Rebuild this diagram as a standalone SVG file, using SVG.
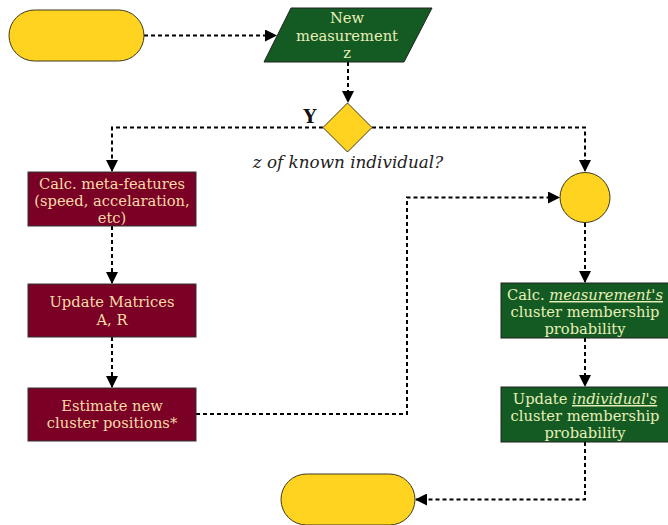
<svg xmlns="http://www.w3.org/2000/svg" width="668" height="525" viewBox="0 0 668 525">
<style>
.term{fill:#ffd320;stroke:#3a3a1a;stroke-width:1}
.red{fill:#7b0025;stroke:#333;stroke-width:1}
.grn{fill:#145a23;stroke:#222;stroke-width:1}
.t{font-family:"DejaVu Serif",serif;font-size:14.7px;text-anchor:middle}
.tr{fill:#f5dca8}
.tg{fill:#e8f0b8}
.c{fill:none;stroke:#000;stroke-width:2;stroke-dasharray:4,3}
</style>
<defs>
<marker id="ah" markerWidth="12" markerHeight="12" refX="11" refY="6" orient="auto" markerUnits="userSpaceOnUse">
<path d="M0,0 L12,6 L0,12 z" fill="#000"/>
</marker>
</defs>
<rect width="668" height="525" fill="#fff"/>
<g id="connectors">
<path class="c" d="M144,35.5 H276" marker-end="url(#ah)"/>
<path class="c" d="M348,62 V102" marker-end="url(#ah)"/>
<path class="c" d="M323,127.5 H112 V171" marker-end="url(#ah)"/>
<path class="c" d="M372,127.5 H585 V171" marker-end="url(#ah)"/>
<path class="c" d="M112,226 V283" marker-end="url(#ah)"/>
<path class="c" d="M112,337 V387" marker-end="url(#ah)"/>
<path class="c" d="M196,414 H407 V197.5 H559" marker-end="url(#ah)"/>
<path class="c" d="M585,223 V282" marker-end="url(#ah)"/>
<path class="c" d="M585,338 V386" marker-end="url(#ah)"/>
<path class="c" d="M585,442 V499.5 H416" marker-end="url(#ah)"/>
</g>
<g id="start">
<rect class="term" x="9" y="10" width="135" height="51" rx="25.5"/>
</g>
<g id="new-measurement">
<polygon class="grn" points="291,8 432,8 404,62 264,62"/>
<text class="t tg" x="347" y="23">New</text>
<text class="t tg" x="347" y="41">measurement</text>
<text class="t tg" x="347" y="58">z</text>
</g>
<g id="decision">
<polygon class="term" points="347.5,103 372,127.5 347.5,152 323,127.5"/>
<text x="310" y="123" font-family="DejaVu Serif,serif" font-size="18" font-weight="bold" text-anchor="middle" fill="#111">Y</text>
<text x="348" y="168" font-family="DejaVu Serif,serif" font-size="16.8" font-style="italic" text-anchor="middle" fill="#222">z of known individual?</text>
</g>
<g id="calc-meta">
<rect class="red" x="28" y="172" width="168" height="54"/>
<text class="t tr" x="112" y="189">Calc. meta-features</text>
<text class="t tr" x="112" y="206">(speed, accelaration,</text>
<text class="t tr" x="112" y="223">etc)</text>
</g>
<g id="update-matrices">
<rect class="red" x="28" y="284" width="168" height="53"/>
<text class="t tr" x="112" y="307">Update Matrices</text>
<text class="t tr" x="112" y="325">A, R</text>
</g>
<g id="estimate">
<rect class="red" x="28" y="388" width="168" height="53"/>
<text class="t tr" x="112" y="411">Estimate new</text>
<text class="t tr" x="112" y="428">cluster positions*</text>
</g>
<g id="merge">
<circle class="term" cx="585" cy="197.5" r="25"/>
</g>
<g id="calc-measurement">
<rect class="grn" x="501" y="283" width="168" height="55"/>
<text class="t tg" x="585" y="300">Calc. <tspan font-style="italic" text-decoration="underline">measurement's</tspan></text>
<text class="t tg" x="585" y="317">cluster membership</text>
<text class="t tg" x="585" y="334">probability</text>
</g>
<g id="update-individual">
<rect class="grn" x="501" y="387" width="168" height="55"/>
<text class="t tg" x="585" y="404">Update <tspan font-style="italic" text-decoration="underline">individual's</tspan></text>
<text class="t tg" x="585" y="421">cluster membership</text>
<text class="t tg" x="585" y="438">probability</text>
</g>
<g id="end">
<rect class="term" x="281" y="474" width="134" height="51" rx="25.5"/>
</g>
</svg>
